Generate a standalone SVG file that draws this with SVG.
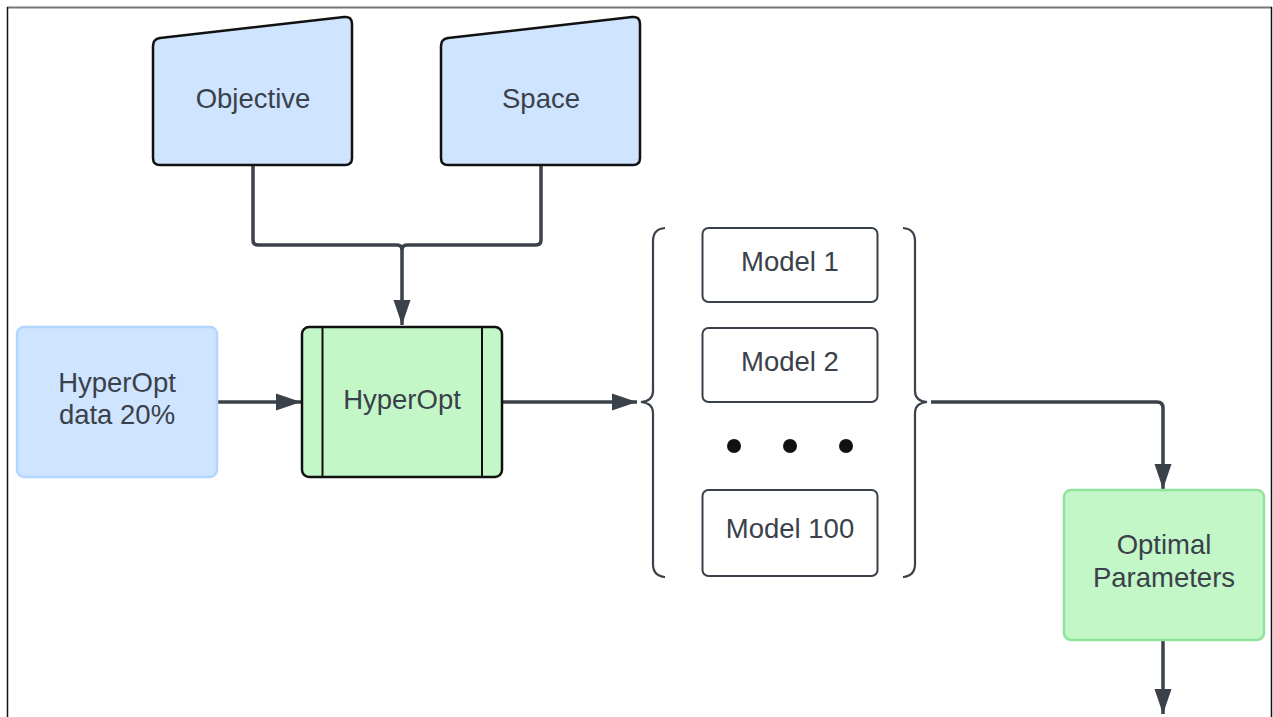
<svg xmlns="http://www.w3.org/2000/svg" width="1273" height="717" viewBox="0 0 1273 717">
  <defs>
    <marker id="arrowL" viewBox="0 0 25 24" refX="25" refY="12" markerWidth="25" markerHeight="24" markerUnits="userSpaceOnUse" orient="auto">
      <path d="M0,3.5 L25,12 L0,20.5 Z" fill="#3a414a"/>
    </marker>
    <style>
      .lbl { font-family: "Liberation Sans", Arial, sans-serif; font-size: 27.5px; fill: #3a414a; text-anchor: middle; }
      .conn { fill: none; stroke: #3a414a; stroke-width: 3.5; stroke-linejoin: round; }
      .brace { fill: none; stroke: #3a414a; stroke-width: 2.2; }
      .blue { fill: #cfe4ff; stroke: #111; stroke-width: 2.5; }
      .blueSoft { fill: #cfe4ff; stroke: #b3d6ff; stroke-width: 2.5; }
      .green { fill: #c3f7c8; stroke: #111; stroke-width: 2.5; }
      .greenSoft { fill: #c3f7c8; stroke: #8fe39a; stroke-width: 2.5; }
      .model { fill: #fff; stroke: #3a414a; stroke-width: 2; }
    </style>
  </defs>

  <rect width="1273" height="717" fill="#fff"/>
  <!-- outer frame -->
  <line x1="7" y1="7.5" x2="1272" y2="7.5" stroke="#777" stroke-width="2"/>
  <line x1="7.5" y1="7" x2="7.5" y2="717" stroke="#111" stroke-width="1.5"/>
  <line x1="1271.5" y1="7" x2="1271.5" y2="717" stroke="#111" stroke-width="1.5"/>

  <!-- connectors -->
  <g id="connectors">
    <path class="conn" d="M253,166 V240 Q253,245 258,245 H397 Q402,245 402,250 V325" marker-end="url(#arrowL)"/>
    <path class="conn" d="M541,166 V240 Q541,245 536,245 H407 Q402,245 402,250"/>
    <path class="conn" d="M218,402 H301" marker-end="url(#arrowL)"/>
    <path class="conn" d="M503,402 H637" marker-end="url(#arrowL)"/>
    <path class="conn" d="M931,402 H1157 Q1163,402 1163,408 V489" marker-end="url(#arrowL)"/>
    <path class="conn" d="M1163,641 V714" marker-end="url(#arrowL)"/>
  </g>

  <g id="objective">
    <path class="blue" d="M160,38 L344,17 Q352,16 352,24 V158 Q352,165 345,165 H160 Q153,165 153,158 V46 Q153,39 160,38 Z"/>
    <text class="lbl" x="253" y="108">Objective</text>
  </g>

  <g id="space">
    <path class="blue" d="M448,38 L632,17 Q640,16 640,24 V158 Q640,165 633,165 H448 Q441,165 441,158 V46 Q441,39 448,38 Z"/>
    <text class="lbl" x="541" y="108">Space</text>
  </g>

  <g id="hyperopt-data">
    <rect class="blueSoft" x="17" y="327" width="200" height="150" rx="7"/>
    <text class="lbl" x="117" y="392">HyperOpt</text>
    <text class="lbl" x="117" y="424">data 20%</text>
  </g>

  <g id="hyperopt">
    <rect class="green" x="302" y="327" width="200" height="150" rx="7"/>
    <line x1="322.5" y1="327" x2="322.5" y2="477" stroke="#111" stroke-width="2"/>
    <line x1="482" y1="327" x2="482" y2="477" stroke="#111" stroke-width="2"/>
    <text class="lbl" x="402" y="409">HyperOpt</text>
  </g>

  <g id="models">
    <path class="brace" d="M665,228 Q653,229 653,241 V391 Q653,401 641,402 Q653,403 653,413 V564 Q653,576 665,577"/>
    <path class="brace" d="M903,228 Q915,229 915,241 V391 Q915,401 927,402 Q915,403 915,413 V564 Q915,576 903,577"/>
    <g id="model-1">
      <rect class="model" x="702.5" y="228" width="175" height="74" rx="6"/>
      <text class="lbl" x="790" y="271">Model 1</text>
    </g>
    <g id="model-2">
      <rect class="model" x="702.5" y="328" width="175" height="74" rx="6"/>
      <text class="lbl" x="790" y="371">Model 2</text>
    </g>
    <g id="ellipsis">
      <circle cx="734" cy="446" r="7" fill="#111"/>
      <circle cx="790" cy="446" r="7" fill="#111"/>
      <circle cx="846" cy="446" r="7" fill="#111"/>
    </g>
    <g id="model-100">
      <rect class="model" x="702.5" y="490" width="175" height="86" rx="6"/>
      <text class="lbl" x="790" y="538">Model 100</text>
    </g>
  </g>

  <g id="optimal-parameters">
    <rect class="greenSoft" x="1064" y="490" width="200" height="150" rx="7"/>
    <text class="lbl" x="1164" y="554">Optimal</text>
    <text class="lbl" x="1164" y="587">Parameters</text>
  </g>
</svg>
